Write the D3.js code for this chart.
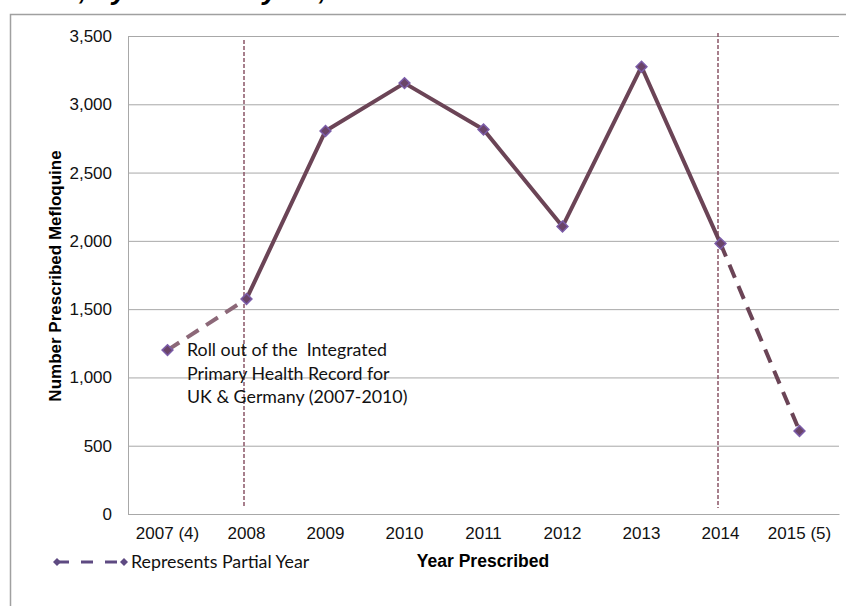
<!DOCTYPE html>
<html>
<head>
<meta charset="utf-8">
<script src="https://cdn.jsdelivr.net/npm/d3@7"></script>
<style>
  body { margin: 0; background: #fff; }
  svg { display: block; }
</style>
</head>
<body>
<div id="chart"></div>
<script>
var years = ["2007 (4)", "2008", "2009", "2010", "2011", "2012", "2013", "2014", "2015 (5)"]
var prescribed = [1200, 1575, 2805, 3155, 2815, 2105, 3275, 1980, 608]
var yTicks = [0, 500, 1000, 1500, 2000, 2500, 3000, 3500]
var markerYears = ["2008", "2014"]
var noteLines = ["Roll out of the  Integrated", "Primary Health Record for", "UK & Germany (2007-2010)"]

var width = 846, height = 606
var margin = { top: 36, right: 7, bottom: 92, left: 128 }
var axisFont = "Liberation Sans, Arial, sans-serif"
var noteFont = "Lato, Open Sans, sans-serif"

var svg = d3.select("#chart")
  .append("svg")
  .attr("width", width)
  .attr("height", height)

// frame (cut off at the edges like the original)
svg.append("path")
  .attr("d", `M10.5,${height} V14.5 H${width}`)
  .attr("fill", "none")
  .attr("stroke", "#a0a0a0")
  .attr("stroke-width", 1.5)

// title, mostly off the top of the picture
var title = svg.append("text")
  .attr("x", 0)
  .attr("y", -1)
  .style("font-family", axisFont)
  .style("font-size", "28px")
  .style("font-weight", "bold")
  .style("font-style", "italic")
  .text("Number of Mefloquine Prescriptions, by Calendar year, 2007-2015")
var titleText = title.text()
var commaAt = title.node().getSubStringLength(0, titleText.indexOf(","))
title.attr("x", 79 - commaAt)

var xScale = d3.scaleBand()
  .domain(years)
  .range([margin.left, width - margin.right])

var yScale = d3.scaleLinear()
  .domain([0, 3500])
  .range([height - margin.bottom, margin.top])

// grid
var yGrid = d3.axisLeft(yScale)
  .tickValues(yTicks)
  .tickSize(-(width - margin.left - margin.right))
  .tickFormat("")

svg.append("g")
  .attr("transform", `translate(${margin.left},0)`)
  .attr("class", "grid")
  .call(yGrid)
  .call(g => g.select(".domain").remove())
  .selectAll("line")
  .attr("stroke", "#a8a8a8")

// y axis
svg.append("g")
  .attr("transform", `translate(${margin.left},0)`)
  .attr("class", "y-axis")
  .call(d3.axisLeft(yScale).tickValues(yTicks).tickSize(0).tickPadding(16).tickFormat(d3.format(",")))
  .call(g => g.select(".domain").attr("stroke", "#a8a8a8"))
  .selectAll("text")
  .style("font-family", axisFont)
  .style("font-size", "17px")
  .attr("fill", "#111")

// x axis
svg.append("g")
  .attr("transform", `translate(0,${height - margin.bottom})`)
  .attr("class", "x-axis")
  .call(d3.axisBottom(xScale).tickSize(0).tickPadding(13))
  .call(g => g.select(".domain").attr("stroke", "#a8a8a8"))
  .selectAll("text")
  .style("font-family", axisFont)
  .style("font-size", "17px")
  .attr("fill", "#111")

// axis titles
svg.append("text")
  .attr("transform", `translate(61,276) rotate(-90)`)
  .attr("text-anchor", "middle")
  .style("font-family", axisFont)
  .style("font-size", "17px")
  .style("font-weight", "bold")
  .text("Number Prescribed Mefloquine")

svg.append("text")
  .attr("x", 483)
  .attr("y", 567)
  .attr("text-anchor", "middle")
  .style("font-family", axisFont)
  .style("font-size", "17.5px")
  .style("font-weight", "bold")
  .text("Year Prescribed")

var cx = d => xScale(d) + xScale.bandwidth() / 2
var pts = years.map((y, i) => ({ year: y, value: prescribed[i] }))

// vertical dotted markers
svg.selectAll(".marker-line")
  .data(markerYears)
  .enter()
  .append("line")
  .attr("class", "marker-line")
  .attr("x1", d => cx(d) - 2.5)
  .attr("x2", d => cx(d) - 2.5)
  .attr("y1", (d, i) => i == 0 ? 40 : 33)
  .attr("y2", height - margin.bottom - 6)
  .attr("stroke", "#8a5567")
  .attr("stroke-width", 1.5)
  .attr("stroke-dasharray", "4,2")

var line = d3.line()
  .x(d => cx(d.year))
  .y(d => yScale(d.value))

// partial years dashed
svg.append("path")
  .attr("d", line(pts.slice(0, 2)))
  .attr("fill", "none")
  .attr("stroke", "#8c6878")
  .attr("stroke-width", 4)
  .attr("stroke-dasharray", "14,9")

svg.append("path")
  .attr("d", line(pts.slice(7)))
  .attr("fill", "none")
  .attr("stroke", "#6b4456")
  .attr("stroke-width", 4)
  .attr("stroke-dasharray", "14,9")

// full years solid
svg.append("path")
  .attr("d", line(pts.slice(1, 8)))
  .attr("fill", "none")
  .attr("stroke", "#6b4456")
  .attr("stroke-width", 4)
  .attr("stroke-linejoin", "round")

var diamond = d3.symbol().type(d3.symbolDiamond2).size(75)

svg.selectAll(".dot")
  .data(pts)
  .enter()
  .append("path")
  .attr("class", "dot")
  .attr("d", diamond)
  .attr("transform", d => `translate(${cx(d.year)},${yScale(d.value)})`)
  .attr("fill", "#6a4468")
  .attr("stroke", "#7b5ca8")
  .attr("stroke-width", 1.5)

// annotation
svg.append("text")
  .attr("x", 187)
  .attr("y", 356)
  .style("font-family", noteFont)
  .style("font-size", "17.8px")
  .attr("fill", "#111")
  .selectAll("tspan")
  .data(noteLines)
  .enter()
  .append("tspan")
  .attr("x", 187)
  .attr("dy", (d, i) => i == 0 ? 0 : 23.5)
  .style("white-space", "pre")
  .text(d => d)

// legend
var legend = svg.append("g")
  .attr("transform", "translate(0,562)")

legend.append("line")
  .attr("x1", 57)
  .attr("x2", 124)
  .attr("stroke", "#5e4a82")
  .attr("stroke-width", 3)
  .attr("stroke-dasharray", "12,12")

legend.selectAll(".legend-dot")
  .data([57, 124])
  .enter()
  .append("path")
  .attr("d", d3.symbol().type(d3.symbolSquare).size(32))
  .attr("transform", d => `translate(${d},0) rotate(45)`)
  .attr("fill", "#5e4a82")

legend.append("text")
  .attr("x", 131)
  .attr("y", 6)
  .style("font-family", noteFont)
  .style("font-size", "17.8px")
  .attr("fill", "#111")
  .text("Represents Partial Year")
</script>
</body>
</html>
